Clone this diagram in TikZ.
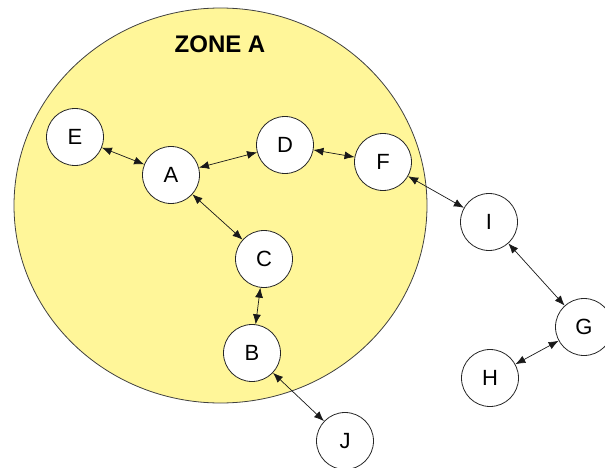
\documentclass[tikz,border=0pt]{standalone}
\usepackage{fontspec}
\setmainfont{Liberation Sans}
\usetikzlibrary{arrows.meta}
\definecolor{zoneyellow}{RGB}{255,246,153}
\tikzset{
	station/.style={circle, draw=black!85, line width=0.8pt, fill=white, minimum size=57pt, inner sep=0pt, font=\fontsize{22}{22}\selectfont},
	link/.style={{Latex[length=10pt,width=8pt]}-{Latex[length=10pt,width=8pt]}, black!90, line width=0.7pt}
}
\begin{document}
\begin{tikzpicture}[x=1pt,y=-1pt]
	\useasboundingbox (0,0) rectangle (605,468);
	\draw[fill=zoneyellow, draw=black!75, line width=0.8pt] (220.5,205.5) ellipse [x radius=206.5pt, y radius=197.5pt];
	\node[font=\bfseries\fontsize{24}{24}\selectfont] (zone) at (220,44.5) {ZONE A};
	%
	\node[station] (E) at (75,137) {E};
	\node[station] (A) at (171,175) {A};
	\node[station] (D) at (285,145) {D};
	\node[station] (F) at (383,162) {F};
	\node[station] (C) at (264,259) {C};
	\node[station] (B) at (252,353) {B};
	\node[station] (J) at (345,441) {J};
	\node[station] (I) at (489,222) {I};
	\node[station] (G) at (584,327) {G};
	\node[station] (H) at (490,378) {H};
	%
	\draw[link] (E) -- (A);
	\draw[link] (A) -- (D);
	\draw[link] (D) -- (F);
	\draw[link] (A) -- (C);
	\draw[link] (C) -- (B);
	\draw[link] (B) -- (J);
	\draw[link] (F) -- (I);
	\draw[link] (I) -- (G);
	\draw[link] (G) -- (H);
\end{tikzpicture}
\end{document}
